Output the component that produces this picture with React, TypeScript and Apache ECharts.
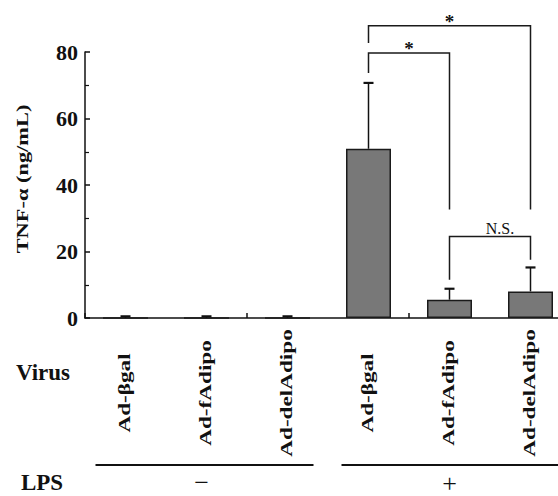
import React, { useEffect, useRef } from "react";
import * as echarts from "echarts";

const categories = ["Ad-βgal", "Ad-fAdipo", "Ad-delAdipo", "Ad-βgal", "Ad-fAdipo", "Ad-delAdipo"];
const means = [0, 0, 0, 50.9, 5.5, 8.0];
const errTops = [0.5, 0.5, 0.5, 70.7, 8.8, 15.2];
const yTicks = [0, 20, 40, 60, 80];
const yTitle = "TNF-α (ng/mL)";
// bracket: [fromIndex, toIndex, topValue, leftLegBottom, rightLegBottom]
const brackets = [
  [3, 5, 87.9, 82.7, 32.6],
  [3, 4, 79.7, 73.7, 32.6],
  [4, 5, 24.5, 11.5, 17.5],
];
const bracketLabels = ["*", "*", "N.S."];
const lpsGroups = ["−", "+"];

const FONT = "Liberation Serif";

export default function App() {
  const ref = useRef<HTMLDivElement>(null);
  useEffect(() => {
    if (!ref.current) return;
    const chart = echarts.init(ref.current, undefined, { renderer: "svg" });
    const option: any = {
      animation: false,
      backgroundColor: "#ffffff",
      grid: { left: 85, top: 52, width: 486, height: 266, containLabel: false },
      xAxis: {
        type: "category",
        data: categories,
        axisLine: { lineStyle: { color: "#111", width: 1.5 } },
        axisTick: { show: true, inside: true, length: 5, alignWithLabel: false, lineStyle: { color: "#111", width: 1.5 } },
        axisLabel: { show: false },
        splitLine: { show: false },
      },
      yAxis: {
        type: "value",
        min: 0,
        max: 80,
        interval: 20,
        axisLine: { show: true, lineStyle: { color: "#111", width: 1.5 } },
        axisTick: { show: true, inside: true, length: 5, lineStyle: { color: "#111", width: 1.5 } },
        minorTick: { show: true, splitNumber: 2, length: 4, lineStyle: { color: "#111", width: 1.2 } },
        axisLabel: {
          margin: 7,
          fontFamily: FONT,
          fontWeight: "bold",
          fontSize: 22,
          color: "#111",
          formatter: (v: number) => (yTicks.includes(v) ? String(v) : ""),
        },
        splitLine: { show: false },
      },
      series: [
        {
          type: "bar",
          data: means,
          barWidth: 45,
          itemStyle: { color: "#787878", borderColor: "#1a1a1a", borderWidth: 1.5 },
          z: 2,
        },
        {
          type: "custom",
          clip: false,
          z: 3,
          data: means.map((m, i) => [i, m, errTops[i]]),
          encode: { x: 0, y: [1, 2] },
          renderItem: (params: any, api: any) => {
            const x = api.value(0);
            const p0 = api.coord([x, api.value(1)]);
            const p1 = api.coord([x, api.value(2)]);
            return {
              type: "group",
              children: [
                { type: "line", shape: { x1: p0[0], y1: p0[1], x2: p1[0], y2: p1[1] }, style: { stroke: "#111", lineWidth: 1.5 } },
                { type: "line", shape: { x1: p1[0] - 5, y1: p1[1], x2: p1[0] + 5, y2: p1[1] }, style: { stroke: "#111", lineWidth: 2.2 } },
              ],
            };
          },
        },
        {
          type: "custom",
          clip: false,
          z: 4,
          data: brackets,
          encode: { x: [0, 1], y: [2, 3, 4] },
          renderItem: (params: any, api: any) => {
            const a = api.value(0);
            const b = api.value(1);
            const top = api.value(2);
            const pl = api.coord([a, top]);
            const pr = api.coord([b, top]);
            const plb = api.coord([a, api.value(3)]);
            const prb = api.coord([b, api.value(4)]);
            const label = bracketLabels[params.dataIndex];
            const isStar = label === "*";
            return {
              type: "group",
              children: [
                {
                  type: "polyline",
                  shape: { points: [[plb[0], plb[1]], [pl[0], pl[1]], [pr[0], pr[1]], [prb[0], prb[1]]] },
                  style: { stroke: "#1a1a1a", lineWidth: 1.5, fill: null },
                },
                {
                  type: "text",
                  style: {
                    text: label,
                    x: (pl[0] + pr[0]) / 2 + (isStar ? 0 : 10),
                    y: pl[1] + (isStar ? -4 : -8),
                    align: "center",
                    verticalAlign: "middle",
                    fontFamily: FONT,
                    fontWeight: isStar ? "bold" : "normal",
                    fontSize: isStar ? 19 : 16,
                    fill: "#111",
                  },
                },
              ],
            };
          },
        },
      ],
    };
    chart.setOption(option);

    const px = (i: number) => chart.convertToPixel({ xAxisIndex: 0 }, i) as number;
    const yTop = chart.convertToPixel({ yAxisIndex: 0 }, 80) as number;
    const yZero = chart.convertToPixel({ yAxisIndex: 0 }, 0) as number;
    const c0 = px(0), c1 = px(1), c2 = px(2), c3 = px(3), c4 = px(4), c5 = px(5);
    const textStyleBold = { fontFamily: FONT, fontWeight: "bold", fontSize: 23, fill: "#111" };
    const catLabels = categories.map((name, i) => ({
      type: "text",
      x: px(i) - 1,
      y: yZero + 75,
      rotation: Math.PI / 2,
      scaleX: 1.45,
      scaleY: 1,
      style: { fontFamily: FONT, fontWeight: "bold", fontSize: 16, fill: "#111", text: name, align: "center", verticalAlign: "middle" },
    }));
    chart.setOption({
      graphic: [
        ...catLabels,
        {
          type: "text",
          x: 23,
          y: (yTop + yZero) / 2 - 6,
          rotation: Math.PI / 2,
          scaleX: 1.4,
          scaleY: 1,
          style: { fontFamily: FONT, fontWeight: "bold", fontSize: 16, fill: "#111", text: yTitle, align: "center", verticalAlign: "middle" },
        },
        { type: "text", x: 43, y: 372, style: { ...textStyleBold, text: "Virus", align: "center", verticalAlign: "middle" } },
        { type: "text", x: 42, y: 482, style: { ...textStyleBold, text: "LPS", align: "center", verticalAlign: "middle" } },
        { type: "line", shape: { x1: c0 - 30, y1: 465, x2: c2 + 26, y2: 465 }, style: { stroke: "#111", lineWidth: 2 } },
        { type: "line", shape: { x1: c3 - 27, y1: 465, x2: c5 + 29, y2: 465 }, style: { stroke: "#111", lineWidth: 2 } },
        { type: "text", x: c1 - 5, y: 482, style: { fontFamily: FONT, fontSize: 26, fill: "#111", text: lpsGroups[0], align: "center", verticalAlign: "middle" } },
        { type: "text", x: c4, y: 483, style: { fontFamily: FONT, fontSize: 26, fill: "#111", text: lpsGroups[1], align: "center", verticalAlign: "middle" } },
      ],
    });
    return () => chart.dispose();
  }, []);
  return (
    <div style={{ position: "fixed", left: 0, top: 0, width: 558, height: 496, overflow: "hidden", background: "#fff" }}>
      <div ref={ref} style={{ width: 600, height: 496 }} />
    </div>
  );
}
